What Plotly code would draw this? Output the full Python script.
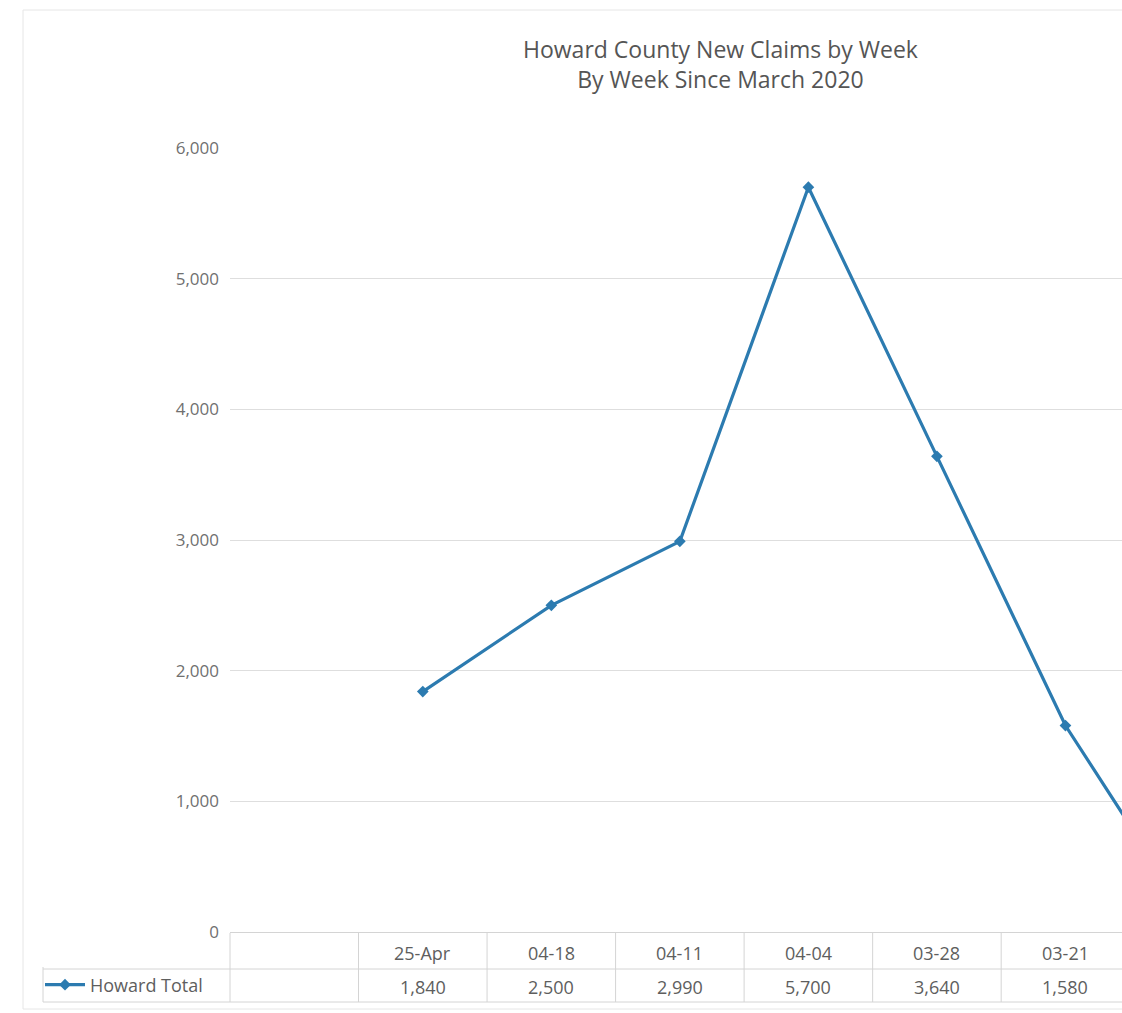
import plotly.graph_objects as go

# ---- data ----
categories = ["", "25-Apr", "04-18", "04-11", "04-04", "03-28", "03-21", "03-14"]
table_labels = ["25-Apr", "04-18", "04-11", "04-04", "03-28", "03-21"]
values = [None, 1840, 2500, 2990, 5700, 3640, 1580, 60]
table_values = ["1,840", "2,500", "2,990", "5,700", "3,640", "1,580"]
series_name = "Howard Total"
y_ticks = [0, 1000, 2000, 3000, 4000, 5000, 6000]
y_ticklabels = ["0", "1,000", "2,000", "3,000", "4,000", "5,000", "6,000"]
title_lines = ["Howard County New Claims by Week", "By Week Since March 2020"]

W, H = 1122, 1013
ML, MR, MT, MB = 230, 0, 148, 81
PW, PH = W - ML - MR, H - MT - MB
XMIN, XMAX = -0.5, 6.44

def px2xp(px):
    return (px - ML) / PW

def py2yp(py):
    return (H - MB - py) / PH

def idx2xp(i):
    return (i - XMIN) / (XMAX - XMIN)

LINE = "#2C7BB0"
GRID = "#dedede"
TXT = "#5e5e5e"
TICK = "#707070"
FONT = "Open Sans"

fig = go.Figure()
fig.add_trace(go.Scatter(
    x=list(range(len(categories))), y=values, mode="lines+markers",
    name=series_name, connectgaps=False,
    line=dict(color=LINE, width=3.2),
    marker=dict(symbol="diamond", size=9, color=LINE),
    cliponaxis=True,
))

annotations = []
# title
annotations.append(dict(
    text="<br>".join(title_lines), xref="paper", yref="paper",
    x=px2xp(720), y=py2yp(31), xanchor="center", yanchor="top",
    showarrow=False, align="center",
    font=dict(family=FONT, size=23, color="#555555"),
))
# table cells
for j, (lab, val) in enumerate(zip(table_labels, table_values)):
    xi = categories.index(lab)
    annotations.append(dict(text=lab, x=xi, y=py2yp(953), xref="x", yref="paper",
                            showarrow=False, xanchor="center", yanchor="middle",
                            font=dict(family=FONT, size=18, color=TXT)))
    annotations.append(dict(text=val, x=xi, y=py2yp(987), xref="x", yref="paper",
                            showarrow=False, xanchor="center", yanchor="middle",
                            font=dict(family=FONT, size=18, color=TXT)))

shapes = []
tline = dict(color="#d4d4d4", width=1)
# horizontal table lines
for py in (969, 1002):
    shapes.append(dict(type="line", xref="paper", yref="paper",
                       x0=px2xp(43), x1=px2xp(W + 10), y0=py2yp(py), y1=py2yp(py), line=tline))
# vertical table lines at category boundaries
for i in range(len(categories)):
    xb = idx2xp(i - 0.5)
    if xb <= 1.0:
        shapes.append(dict(type="line", xref="paper", yref="paper",
                           x0=xb, x1=xb, y0=py2yp(933), y1=py2yp(1002), line=tline))
# legend cell left border
shapes.append(dict(type="line", xref="paper", yref="paper",
                   x0=px2xp(43), x1=px2xp(43), y0=py2yp(967), y1=py2yp(1002), line=tline))
# outer chart border
shapes.append(dict(type="rect", xref="paper", yref="paper",
                   x0=px2xp(23), x1=px2xp(W + 10), y0=py2yp(10), y1=py2yp(1009),
                   line=dict(color="#e6e6e6", width=1)))

fig.update_layout(
    width=W, height=H,
    margin=dict(l=ML, r=MR, t=MT, b=MB),
    paper_bgcolor="white", plot_bgcolor="white",
    font=dict(family=FONT, color=TXT),
    showlegend=True,
    legend=dict(x=px2xp(40), y=py2yp(985), xanchor="left", yanchor="middle",
                bgcolor="rgba(0,0,0,0)", font=dict(family=FONT, size=18, color=TXT),
                itemwidth=40, borderwidth=0, tracegroupgap=0),
    xaxis=dict(range=[XMIN, XMAX], showgrid=False, showticklabels=False, ticks="",
               zeroline=False, showline=True, linecolor="#d4d4d4", linewidth=1,
               fixedrange=True),
    yaxis=dict(range=[0, 6000], tickvals=y_ticks, ticktext=y_ticklabels,
               showgrid=True, gridcolor=GRID, gridwidth=1, zeroline=False,
               showline=False, ticks="", ticklabelstandoff=10,
               tickfont=dict(family=FONT, size=17, color=TICK), fixedrange=True),
    annotations=annotations,
    shapes=shapes,
)

fig.write_html("out.html")
